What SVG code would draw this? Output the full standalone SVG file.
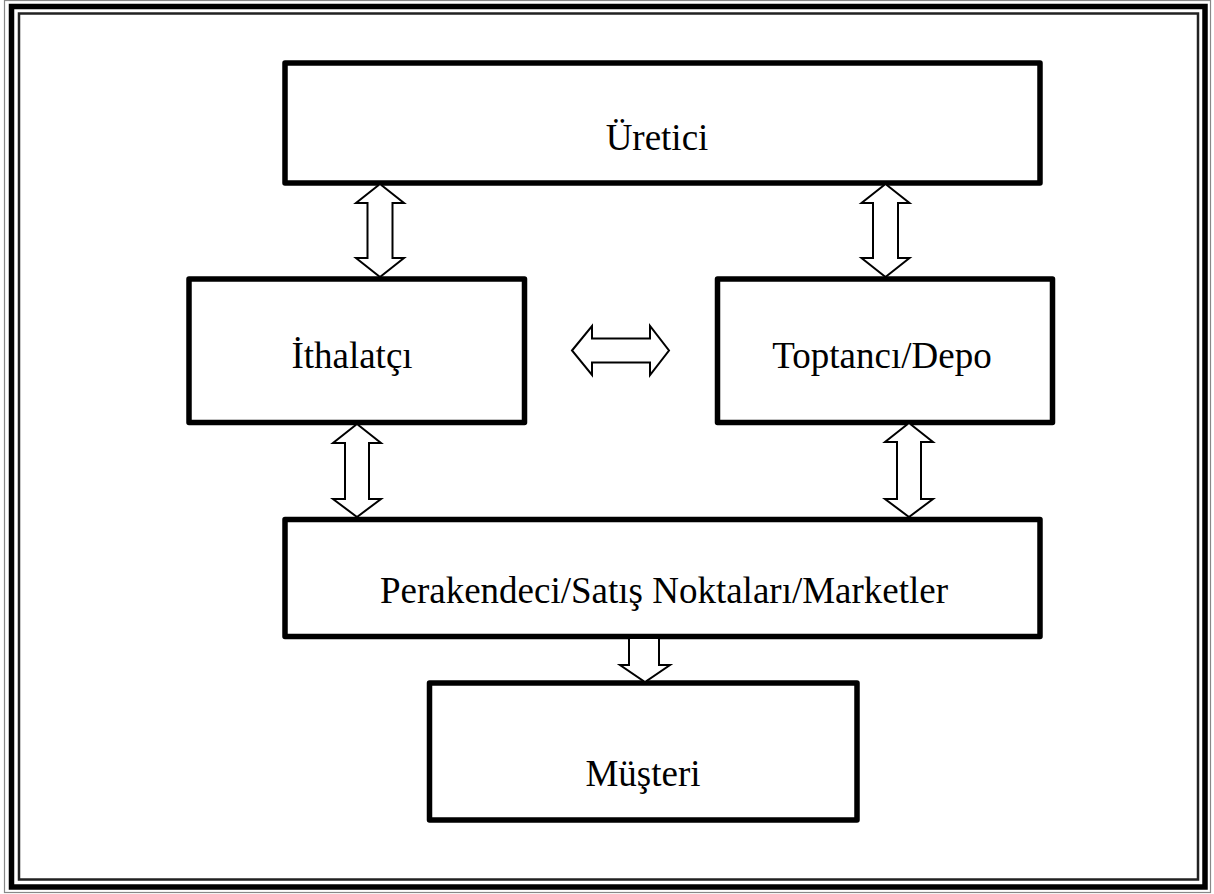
<svg xmlns="http://www.w3.org/2000/svg" width="1214" height="894" viewBox="0 0 1214 894">
<style>
.box{fill:#fff;stroke:#000;stroke-width:5.5;stroke-linejoin:round}
.lbl{font-family:"Liberation Serif","Times New Roman",serif;font-size:37px;fill:#000;text-anchor:middle}
.arr{fill:#fff;stroke:#000;stroke-width:2;stroke-linejoin:miter}
</style>
<rect width="1214" height="894" fill="#fff"/>
<g id="frame" fill="none">
<rect x="4.5" y="0.5" width="1206" height="892" stroke="#888" stroke-width="1.2"/>
<rect x="11.5" y="6.5" width="1193.5" height="880.5" stroke="#000" stroke-width="5.5"/>
<rect x="19" y="13.5" width="1179" height="866" stroke="#222" stroke-width="2.5"/>
</g>
<g id="uretici"><rect class="box" x="285" y="63" width="755" height="120"/><text class="lbl" x="657" y="150">Üretici</text></g>
<g id="ithalatci"><rect class="box" x="189" y="279" width="335.5" height="143.5"/><text class="lbl" x="352" y="368">İthalatçı</text></g>
<g id="toptanci"><rect class="box" x="717.5" y="279" width="335" height="143.5"/><text class="lbl" x="882" y="368">Toptancı/Depo</text></g>
<g id="perakendeci"><rect class="box" x="285" y="519.5" width="755" height="117"/><text class="lbl" x="664" y="603">Perakendeci/Satış Noktaları/Marketler</text></g>
<g id="musteri"><rect class="box" x="429.5" y="683" width="427.5" height="137"/><text class="lbl" x="643" y="786">Müşteri</text></g>
<g id="connectors">
<polygon class="arr" points="380,184 404,203 392.5,203 392.5,258 404,258 380,277 356,258 367.5,258 367.5,203 356,203"/>
<polygon class="arr" points="885.5,184 909.5,203 898,203 898,258 909.5,258 885.5,277 861.5,258 873,258 873,203 861.5,203"/>
<polygon class="arr" points="357,424 381,443 369,443 369,499 381,499 357,517 333,499 345,499 345,443 333,443"/>
<polygon class="arr" points="909,423 933,442 921,442 921,499 933,499 909,517 885,499 897,499 897,442 885,442"/>
<polygon class="arr" points="572,350.5 592,326 592,338.5 650,338.5 650,326 669,350.5 650,375 650,362.5 592,362.5 592,375"/>
<polygon class="arr" points="629,638 659,638 659,665 670,665 645,682 620,665 629,665"/>
</g>
</svg>
